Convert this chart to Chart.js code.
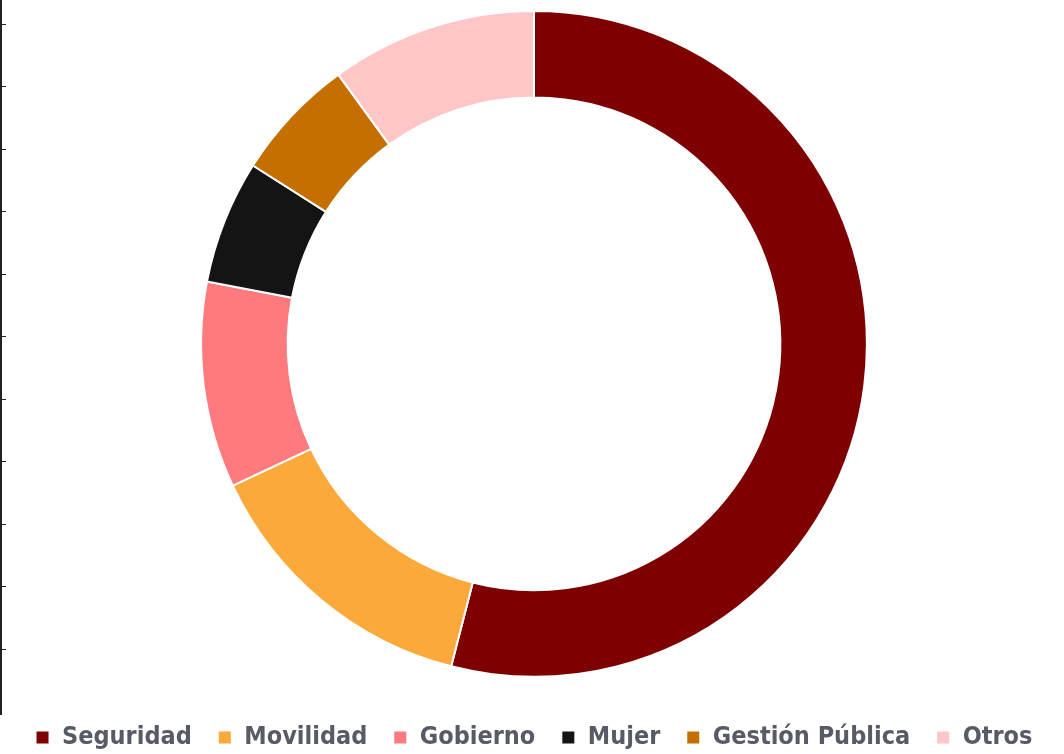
<!DOCTYPE html>
<html>
<head>
<meta charset="utf-8">
<script src="https://cdn.jsdelivr.net/npm/chart.js@4"></script>
<style>
  html, body { margin: 0; padding: 0; background: #fff; }
  #wrap { position: relative; width: 1064px; height: 754px; }
  #edge { position: absolute; left: 0; top: 0; width: 2px; height: 715px; background: #222; }
  #ticks { position: absolute; left: 0; top: 24px; width: 6px; height: 640px;
    background: repeating-linear-gradient(to bottom, #222 0, #222 1px, transparent 1px, transparent 62.5px); }
</style>
</head>
<body>
<div id="wrap">
  <canvas id="donutChart" width="1064" height="754"></canvas>
  <div id="edge"></div>
  <div id="ticks"></div>
</div>
<script>
const categories = ["Seguridad", "Movilidad", "Gobierno", "Mujer", "Gestión Pública", "Otros"];
const shares = [54, 14, 10, 6, 6, 10];
const colors = ["#7f0000", "#fba93a", "#ff7a7e", "#141414", "#c46f00", "#ffc6c8"];

const CHART = document.getElementById("donutChart");
let donutChart = new Chart(CHART, {
  type: "doughnut",
  data: {
    labels: categories,
    datasets: [
      {
        data: shares,
        backgroundColor: colors,
        borderColor: "#ffffff",
        borderWidth: 2,
      },
    ],
  },
  options: {
    responsive: false,
    animation: false,
    cutout: "74%",
    layout: { padding: { top: 10, bottom: -6, left: 4 } },
    plugins: {
      tooltip: { enabled: false },
      legend: {
        position: "bottom",
        // empty title only adds room between the ring and the legend row
        title: { display: true, text: " ", padding: 4, font: { size: 11 } },
        labels: {
          boxWidth: 14,
          boxHeight: 14,
          padding: 26,
          color: "#575b66",
          font: { family: "'DejaVu Sans', sans-serif", size: 25, weight: "bold condensed" },
        },
      },
    },
  },
});
</script>
</body>
</html>
